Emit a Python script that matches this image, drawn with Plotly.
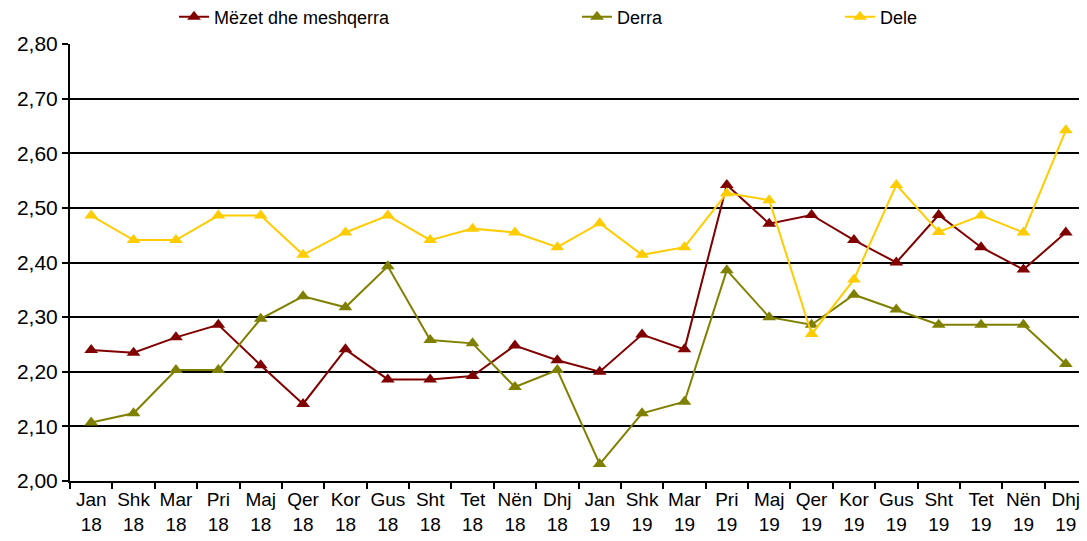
import plotly.graph_objects as go

months = ["Jan", "Shk", "Mar", "Pri", "Maj", "Qer", "Kor", "Gus", "Sht", "Tet", "Nën", "Dhj"]
years = ["18"] * 12 + ["19"] * 12
categories = [f"{m}<br>{y}" for m, y in zip(months * 2, years)]

mezet = [2.24, 2.235, 2.263, 2.286, 2.212, 2.141, 2.241, 2.186, 2.186, 2.192, 2.248, 2.221,
         2.200, 2.268, 2.241, 2.542, 2.471, 2.487, 2.441, 2.400, 2.487, 2.428, 2.387, 2.455]
derra = [2.107, 2.124, 2.203, 2.203, 2.297, 2.338, 2.318, 2.393, 2.258, 2.252, 2.172, 2.203,
         2.031, 2.124, 2.145, 2.386, 2.300, 2.286, 2.341, 2.314, 2.286, 2.286, 2.286, 2.214]
dele = [2.486, 2.441, 2.441, 2.486, 2.486, 2.414, 2.455, 2.486, 2.441, 2.462, 2.455, 2.428,
        2.472, 2.414, 2.428, 2.527, 2.514, 2.269, 2.369, 2.542, 2.456, 2.486, 2.455, 2.642]

series = [
    ("Mëzet dhe meshqerra", mezet, "#800000", "legend"),
    ("Derra", derra, "#808000", "legend2"),
    ("Dele", dele, "#FFCC00", "legend3"),
]

W, H = 1079, 533  # page body has an 8px margin

fig = go.Figure()
for name, vals, color, lg in series:
    fig.add_trace(go.Scatter(
        x=categories, y=vals, name=name, mode="lines+markers",
        line=dict(color=color, width=2),
        marker=dict(symbol="triangle-up", size=12, color=color),
        legend=lg, showlegend=True,
    ))

legend_common = dict(orientation="h", yanchor="middle", xanchor="left",
                     font=dict(family="Liberation Sans", size=18, color="#000000"),
                     bgcolor="rgba(0,0,0,0)", xref="container", yref="container",
                     itemwidth=30)
ly = 1 - 9 / H

fig.update_layout(
    width=W, height=H,
    margin=dict(l=62, r=0, t=36, b=60, autoexpand=False),
    plot_bgcolor="white", paper_bgcolor="white",
    separators=", ",
    showlegend=True,
    font=dict(family="Liberation Sans", color="#000000"),
    legend=dict(x=166 / W, y=ly, **legend_common),
    legend2=dict(x=569 / W, y=ly, **legend_common),
    legend3=dict(x=832 / W, y=ly, **legend_common),
    xaxis=dict(
        type="category", range=[-0.5, 23.5], automargin=False, tickangle=0,
        showline=True, linecolor="#000000", linewidth=2,
        ticks="outside", tickson="boundaries", ticklen=6, tickcolor="#000000", tickwidth=2,
        showgrid=False, tickfont=dict(size=19, color="#000000"),
    ),
    yaxis=dict(
        range=[2.0, 2.8], dtick=0.1, tickformat=".2f", automargin=False,
        showline=True, linecolor="#000000", linewidth=2,
        ticks="outside", ticklen=6, tickcolor="#000000", tickwidth=2,
        showgrid=True, gridcolor="#000000", gridwidth=2,
        zeroline=False, tickfont=dict(size=21, color="#000000"),
    ),
)

fig.write_html("out.html")
